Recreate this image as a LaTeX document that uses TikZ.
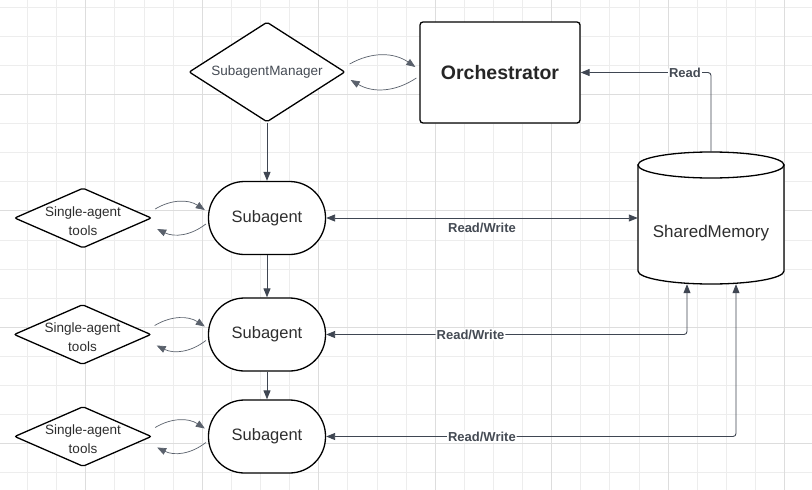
\documentclass[tikz,border=0pt]{standalone}
\usepackage{fontspec}
\setmainfont{Liberation Sans}
\usetikzlibrary{shapes.geometric,arrows.meta,calc}
\definecolor{gridminor}{HTML}{EDEDED}
\definecolor{gridmajor}{HTML}{DDDDDD}
\definecolor{conncol}{HTML}{3F4652}
\definecolor{loopcol}{HTML}{5A616C}
\definecolor{txtcol}{HTML}{2E2E2E}
\definecolor{lblcol}{HTML}{454B54}
\tikzset{
  shapeline/.style={draw=black,line width=1.3pt,fill=white},
  diam/.style={shapeline,shape=diamond,inner sep=0pt,rounded corners=2pt,align=center,text=txtcol},
  tooldiam/.style={diam,shape aspect=2.28,minimum width=137pt,minimum height=60pt,
    label={[yshift=-3pt,align=center,text=txtcol,font=\fontsize{13.5}{19}\selectfont]center:Single-agent\\tools}},
  pill/.style={shapeline,rectangle,rounded corners=36pt,minimum width=117pt,minimum height=73pt,inner sep=0pt,text=txtcol,font=\fontsize{16.5}{19}\selectfont},
  conn/.style={draw=conncol,line width=0.9pt,-{Triangle[length=9pt,width=7pt]}},
  bconn/.style={draw=conncol,line width=0.9pt,{Triangle[length=9pt,width=7pt]}-{Triangle[length=9pt,width=7pt]},rounded corners=3pt},
  loopc/.style={draw=loopcol,line width=0.7pt,-{Triangle[length=9pt,width=7pt]}},
  lbl/.style={fill=white,inner sep=1pt,text=lblcol,font=\bfseries\fontsize{13}{15}\selectfont},
  gmin/.style={draw=gridminor,line width=0.8pt},
  gmaj/.style={draw=gridmajor,line width=0.9pt},
}
\begin{document}
\begin{tikzpicture}[x=1pt,y=1pt]
\useasboundingbox (0,0) rectangle (812,-490);
\fill[white] (0,0) rectangle (812,-490);
% grid
\foreach \k in {-2,...,24} \draw[gmin] ({85.7+\k*29.12},0) -- ({85.7+\k*29.12},-490);
\foreach \k in {-3,...,13} \draw[gmin] (0,{-(94.3+\k*29.12)}) -- (812,{-(94.3+\k*29.12)});
\foreach \k in {0,4,...,24} \draw[gmaj] ({85.7+\k*29.12},0) -- ({85.7+\k*29.12},-490);
\foreach \k in {0,4,8,12} \draw[gmaj] (0,{-(94.3+\k*29.12)}) -- (812,{-(94.3+\k*29.12)});

% nodes
\node[diam,shape aspect=1.56,minimum width=156pt,minimum height=100pt,font=\fontsize{13.5}{16}\selectfont,text=lblcol] (sm) at (267,-72) {SubagentManager};
\node[shapeline,rectangle,rounded corners=3pt,minimum width=160pt,minimum height=101pt,font=\bfseries\fontsize{19.5}{22}\selectfont,text=black!85] (orch) at (500,-72.5) {Orchestrator};

\node[pill] (sa1) at (267,-218) {Subagent};
\node[pill] (sa2) at (267,-334.5) {Subagent};
\node[pill] (sa3) at (267,-436.5) {Subagent};

\node[tooldiam] (t1) at (83,-218) {};
\node[tooldiam] (t2) at (82.5,-334.5) {};
\node[tooldiam] (t3) at (83,-436.5) {};

% shared memory cylinder
\node[rectangle,inner sep=0pt,minimum width=146pt,minimum height=132pt] (mem) at (711,-218) {};
\path[shapeline] (638,-165) -- (638,-271)
  .. controls (638,-278.2) and (670.7,-284) .. (711,-284)
  .. controls (751.3,-284) and (784,-278.2) .. (784,-271)
  -- (784,-165) -- cycle;
\draw[shapeline] (711,-165) ellipse [x radius=73pt,y radius=13pt];
\node[text=txtcol,font=\fontsize{17}{20}\selectfont] (memlbl) at (711,-233) {SharedMemory};

% loops
\draw[loopc] ($(sm.east)+(4,8)$) to[bend left=32] ($(orch.west)+(-4,5.5)$);
\draw[loopc] ($(orch.west)+(-3,-5.5)$) to[bend left=32] ($(sm.east)+(5,-8)$);
\foreach \t/\s in {t1/sa1,t2/sa2,t3/sa3}{
  \draw[loopc] ($(\t.east)+(3,9)$) to[bend left=32] ($(\s.west)+(-3,8)$);
  \draw[loopc] ($(\s.west)+(-2,-6)$) to[bend left=32] ($(\t.east)+(5,-11)$);
}

% vertical flow
\draw[conn] (sm.south) -- (sa1.north);
\draw[conn] (sa1.south) -- (sa2.north);
\draw[conn] (sa2.south) -- (sa3.north);

% memory connections
\draw[bconn] (sa1.east) -- (mem.west) node[lbl,fill=none,pos=0.5,below=4pt] (rw1) {Read/Write};
\draw[bconn] (sa2.east) -| ($(mem.south)+(-24,0)$) node[lbl,pos=0.2] (rw2) {Read/Write};
\draw[bconn] (sa3.east) -| ($(mem.south)+(25,0)$) node[lbl,pos=0.19] (rw3) {Read/Write};
\draw[conn,rounded corners=3pt] (mem.north) |- (orch.east) node[lbl,pos=0.6] (rd) {Read};
\end{tikzpicture}
\end{document}
